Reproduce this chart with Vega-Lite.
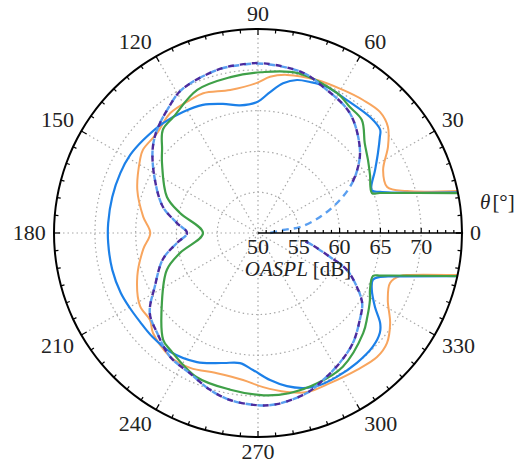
{
 "$schema": "https://vega.github.io/schema/vega-lite/v6.json",
 "width": 408,
 "height": 408,
 "autosize": {"type": "none"},
 "padding": {"left": 54, "top": 29, "right": 60, "bottom": 29},
 "background": "white",
 "config": {"view": {"stroke": null}, "text": {"font": "Liberation Serif"}, "axis": {"disable": true}},
 "datasets": {
  "spokes": [{"a": 30}, {"a": 60}, {"a": 90}, {"a": 120}, {"a": 150}, {"a": 180}, {"a": 210}, {"a": 240}, {"a": 270}, {"a": 300}, {"a": 330}],
  "angles": [{"a":0},{"a":5},{"a":10},{"a":15},{"a":20},{"a":25},{"a":30},{"a":35},{"a":40},{"a":45},{"a":50},{"a":55},{"a":60},{"a":65},{"a":70},{"a":75},{"a":80},{"a":85},{"a":90},{"a":95},{"a":100},{"a":105},{"a":110},{"a":115},{"a":120},{"a":125},{"a":130},{"a":135},{"a":140},{"a":145},{"a":150},{"a":155},{"a":160},{"a":165},{"a":170},{"a":175},{"a":180},{"a":185},{"a":190},{"a":195},{"a":200},{"a":205},{"a":210},{"a":215},{"a":220},{"a":225},{"a":230},{"a":235},{"a":240},{"a":245},{"a":250},{"a":255},{"a":260},{"a":265},{"a":270},{"a":275},{"a":280},{"a":285},{"a":290},{"a":295},{"a":300},{"a":305},{"a":310},{"a":315},{"a":320},{"a":325},{"a":330},{"a":335},{"a":340},{"a":345},{"a":350},{"a":355},{"a":360}],
  "rticks": [{"r":51},{"r":52},{"r":53},{"r":54},{"r":55},{"r":56},{"r":57},{"r":58},{"r":59},{"r":60},{"r":61},{"r":62},{"r":63},{"r":64},{"r":65},{"r":66},{"r":67},{"r":68},{"r":69},{"r":70},{"r":71},{"r":72},{"r":73},{"r":74}],
  "rlabels": [{"r": 50}, {"r": 55}, {"r": 60}, {"r": 65}, {"r": 70}],
  "alabels": [{"a":0,"label":"0"},{"a":30,"label":"30"},{"a":60,"label":"60"},{"a":90,"label":"90"},{"a":120,"label":"120"},{"a":150,"label":"150"},{"a":180,"label":"180"},{"a":210,"label":"210"},{"a":240,"label":"240"},{"a":270,"label":"270"},{"a":300,"label":"300"},{"a":330,"label":"330"}],
  "curves": [
   {"s":"orange","a":11.9,"r":75},{"s":"orange","a":15.7,"r":68.97},{"s":"orange","a":19.6,"r":66.8},{"s":"orange","a":26.7,"r":67.16},{"s":"orange","a":33.5,"r":69.1},{"s":"orange","a":39.2,"r":70.55},{"s":"orange","a":44.8,"r":71.06},{"s":"orange","a":51.7,"r":70.77},{"s":"orange","a":59.3,"r":70.39},{"s":"orange","a":68.9,"r":70.1},{"s":"orange","a":79.6,"r":69.7},{"s":"orange","a":85.6,"r":69.2},{"s":"orange","a":90.4,"r":68.4},{"s":"orange","a":101,"r":67.86},{"s":"orange","a":111.4,"r":68.4},{"s":"orange","a":117,"r":68.3},{"s":"orange","a":126.3,"r":68.2},{"s":"orange","a":135.3,"r":67.4},{"s":"orange","a":144.2,"r":67.4},{"s":"orange","a":148.3,"r":67.0},{"s":"orange","a":160.4,"r":65.7},{"s":"orange","a":172,"r":64.2},{"s":"orange","a":180,"r":63.2},{"s":"orange","a":188,"r":64.2},{"s":"orange","a":199.6,"r":65.7},{"s":"orange","a":211.7,"r":67.0},{"s":"orange","a":218.9,"r":67.0},{"s":"orange","a":223.6,"r":67.77},{"s":"orange","a":234.6,"r":68.6},{"s":"orange","a":243.3,"r":68.5},{"s":"orange","a":253.7,"r":67.9},{"s":"orange","a":264.2,"r":68.1},{"s":"orange","a":271.9,"r":68.9},{"s":"orange","a":280.3,"r":69.8},{"s":"orange","a":287.1,"r":70.4},{"s":"orange","a":295.6,"r":70.4},{"s":"orange","a":305.9,"r":70.7},{"s":"orange","a":313.8,"r":71.07},{"s":"orange","a":319.5,"r":70.78},{"s":"orange","a":325.7,"r":69.6},{"s":"orange","a":332.7,"r":67.9},{"s":"orange","a":339.3,"r":67.3},{"s":"orange","a":343.2,"r":68.2},{"s":"orange","a":344.6,"r":69.33},{"s":"orange","a":348.1,"r":75},
   {"s":"blue","a":11.5,"r":75},{"s":"blue","a":18.6,"r":65.77},{"s":"blue","a":20.7,"r":64.9},{"s":"blue","a":28.3,"r":66.3},{"s":"blue","a":33.7,"r":67.67},{"s":"blue","a":38.2,"r":69.0},{"s":"blue","a":40.2,"r":69.6},{"s":"blue","a":46,"r":69.76},{"s":"blue","a":56.2,"r":69.6},{"s":"blue","a":64.7,"r":69.8},{"s":"blue","a":71,"r":69.57},{"s":"blue","a":75.7,"r":69.35},{"s":"blue","a":80.5,"r":68.6},{"s":"blue","a":85.1,"r":67.34},{"s":"blue","a":90.4,"r":66.05},{"s":"blue","a":98,"r":65.8},{"s":"blue","a":105.2,"r":66.4},{"s":"blue","a":113.3,"r":67.1},{"s":"blue","a":121.8,"r":67.45},{"s":"blue","a":130.8,"r":67.8},{"s":"blue","a":141,"r":68.1},{"s":"blue","a":148.6,"r":68.35},{"s":"blue","a":156.5,"r":68.4},{"s":"blue","a":166.1,"r":68.4},{"s":"blue","a":176.2,"r":68.4},{"s":"blue","a":183.8,"r":68.4},{"s":"blue","a":194.2,"r":68.42},{"s":"blue","a":203.5,"r":68.35},{"s":"blue","a":210,"r":68.2},{"s":"blue","a":217,"r":68.1},{"s":"blue","a":224.5,"r":68.15},{"s":"blue","a":233.7,"r":68.1},{"s":"blue","a":244.7,"r":67.5},{"s":"blue","a":254.9,"r":66.5},{"s":"blue","a":262.1,"r":66.1},{"s":"blue","a":267.9,"r":66.8},{"s":"blue","a":274.7,"r":68.08},{"s":"blue","a":280.7,"r":69.1},{"s":"blue","a":286.2,"r":69.78},{"s":"blue","a":291.1,"r":70.1},{"s":"blue","a":298.7,"r":70.1},{"s":"blue","a":307.3,"r":70.0},{"s":"blue","a":315.3,"r":69.8},{"s":"blue","a":320.7,"r":69.3},{"s":"blue","a":323.6,"r":68.6},{"s":"blue","a":327.7,"r":66.96},{"s":"blue","a":333.4,"r":65.6},{"s":"blue","a":337.8,"r":65.2},{"s":"blue","a":340.2,"r":65.9},{"s":"blue","a":341.5,"r":66.8},{"s":"blue","a":347.8,"r":75},
   {"s":"green","a":11.3,"r":75},{"s":"green","a":18.15,"r":65.73},{"s":"green","a":19.3,"r":64.8},{"s":"green","a":27.4,"r":65.46},{"s":"green","a":33.6,"r":66.18},{"s":"green","a":40.1,"r":67.1},{"s":"green","a":47.4,"r":68.8},{"s":"green","a":53.9,"r":69.1},{"s":"green","a":60.6,"r":69.7},{"s":"green","a":76,"r":70.2},{"s":"green","a":89,"r":69.7},{"s":"green","a":100,"r":69.4},{"s":"green","a":113,"r":69.05},{"s":"green","a":126,"r":67.6},{"s":"green","a":132.7,"r":67.2},{"s":"green","a":138.9,"r":65.6},{"s":"green","a":143.9,"r":64.56},{"s":"green","a":158.4,"r":62.0},{"s":"green","a":165.6,"r":59.87},{"s":"green","a":180,"r":56.74},{"s":"green","a":194.4,"r":59.87},{"s":"green","a":202,"r":62.04},{"s":"green","a":216,"r":64.56},{"s":"green","a":228.4,"r":67.5},{"s":"green","a":233,"r":67.9},{"s":"green","a":247,"r":69.2},{"s":"green","a":260,"r":69.5},{"s":"green","a":272,"r":69.9},{"s":"green","a":281,"r":70.0},{"s":"green","a":291.5,"r":69.8},{"s":"green","a":302.4,"r":69.4},{"s":"green","a":316.4,"r":67.8},{"s":"green","a":322.4,"r":66.9},{"s":"green","a":329,"r":66.0},{"s":"green","a":333,"r":65.4},{"s":"green","a":339.5,"r":65.05},{"s":"green","a":340.9,"r":65.95},{"s":"green","a":347.8,"r":75},
   {"s":"dblue","a":0,"r":51.5},{"s":"dblue","a":6.8,"r":53.1},{"s":"dblue","a":8.1,"r":55.2},{"s":"dblue","a":14.5,"r":57.85},{"s":"dblue","a":20.8,"r":60.36},{"s":"dblue","a":26.6,"r":62.6},{"s":"dblue","a":31.7,"r":64.2},{"s":"dblue","a":39.1,"r":66.1},{"s":"dblue","a":52.5,"r":68.5},{"s":"dblue","a":66,"r":69.6},{"s":"dblue","a":74.3,"r":70.4},{"s":"dblue","a":88,"r":70.75},{"s":"dblue","a":96,"r":70.7},{"s":"dblue","a":104,"r":70.6},{"s":"dblue","a":118,"r":69.9},{"s":"dblue","a":126,"r":68.8},{"s":"dblue","a":135,"r":67.6},{"s":"dblue","a":142,"r":66.4},{"s":"dblue","a":152.8,"r":64.2},{"s":"dblue","a":164.7,"r":62.07},{"s":"dblue","a":173,"r":60.0},{"s":"dblue","a":180,"r":58.7},{"s":"dblue","a":187,"r":60.0},{"s":"dblue","a":195.3,"r":62.07},{"s":"dblue","a":207.2,"r":64.2},{"s":"dblue","a":216.5,"r":66.5},{"s":"dblue","a":224.7,"r":67.4},{"s":"dblue","a":234.6,"r":68.6},{"s":"dblue","a":244,"r":69.1},{"s":"dblue","a":253,"r":70.1},{"s":"dblue","a":260.5,"r":70.75},{"s":"dblue","a":269.7,"r":71.1},{"s":"dblue","a":276.3,"r":71.1},{"s":"dblue","a":287,"r":70.5},{"s":"dblue","a":293.9,"r":69.7},{"s":"dblue","a":302.2,"r":68.8},{"s":"dblue","a":310.8,"r":67.8},{"s":"dblue","a":319.5,"r":66.4},{"s":"dblue","a":326,"r":65.4},{"s":"dblue","a":331.4,"r":63.8},{"s":"dblue","a":337.4,"r":61.8},{"s":"dblue","a":341.6,"r":59.3},{"s":"dblue","a":347.5,"r":56.8},{"s":"dblue","a":350,"r":55.9},
   {"s":"purple","a":26.6,"r":62.6},{"s":"purple","a":31.7,"r":64.2},{"s":"purple","a":39.1,"r":66.1},{"s":"purple","a":52.5,"r":68.5},{"s":"purple","a":66,"r":69.6},{"s":"purple","a":74.3,"r":70.4},{"s":"purple","a":88,"r":70.8},{"s":"purple","a":96,"r":70.75},{"s":"purple","a":104,"r":70.6},{"s":"purple","a":118,"r":69.9},{"s":"purple","a":126,"r":68.8},{"s":"purple","a":135,"r":67.6},{"s":"purple","a":142,"r":66.4},{"s":"purple","a":152.8,"r":64.2},{"s":"purple","a":164.7,"r":62.07},{"s":"purple","a":173,"r":60.0},{"s":"purple","a":180,"r":58.7},{"s":"purple","a":187,"r":60.0},{"s":"purple","a":195.3,"r":62.07},{"s":"purple","a":207.2,"r":64.2},{"s":"purple","a":216.5,"r":66.5},{"s":"purple","a":224.7,"r":67.4},{"s":"purple","a":234.6,"r":68.6},{"s":"purple","a":244,"r":69.1},{"s":"purple","a":253,"r":70.1},{"s":"purple","a":260.5,"r":70.75},{"s":"purple","a":269.7,"r":71.1},{"s":"purple","a":276.3,"r":71.1},{"s":"purple","a":287,"r":70.5},{"s":"purple","a":293.9,"r":69.7},{"s":"purple","a":302.2,"r":68.8},{"s":"purple","a":310.8,"r":67.8},{"s":"purple","a":319.5,"r":66.4},{"s":"purple","a":326,"r":65.4},{"s":"purple","a":331.4,"r":63.8},{"s":"purple","a":337.4,"r":61.8},{"s":"purple","a":341.6,"r":59.3},{"s":"purple","a":347.5,"r":56.8},{"s":"purple","a":350,"r":55.9}
  ]
 },
 "layer": [
  {
   "data": {"name": "angles"},
   "transform": [
    {"calculate": "[55, 60, 65, 70]", "as": "rr"},
    {"flatten": ["rr"]},
    {"calculate": "(datum.rr-50)*cos(datum.a*PI/180)", "as": "x"},
    {"calculate": "(datum.rr-50)*sin(datum.a*PI/180)", "as": "y"}
   ],
   "mark": {"type": "line", "stroke": "#a8a8a8", "strokeWidth": 1.2, "strokeDash": [1.5, 3]},
   "encoding": {
    "x": {"field": "x", "type": "quantitative", "scale": {"domain": [-25, 25], "nice": false, "zero": false}, "axis": null},
    "y": {"field": "y", "type": "quantitative", "scale": {"domain": [-25, 25], "nice": false, "zero": false}, "axis": null},
    "detail": {"field": "rr", "type": "nominal"},
    "order": {"field": "a", "type": "quantitative"}
   }
  },
  {
   "data": {"name": "spokes"},
   "transform": [{"calculate": "25*cos(datum.a*PI/180)", "as": "x2"}, {"calculate": "25*sin(datum.a*PI/180)", "as": "y2"}, {"calculate": "0", "as": "x"}, {"calculate": "0", "as": "y"}],
   "mark": {"type": "rule", "stroke": "#a8a8a8", "strokeWidth": 1.2, "strokeDash": [1.5, 3]},
   "encoding": {
    "x": {"field": "x", "type": "quantitative"},
    "y": {"field": "y", "type": "quantitative"},
    "x2": {"field": "x2"},
    "y2": {"field": "y2"}
   }
  },
  {
   "data": {"name": "curves"},
   "transform": [{"filter": "datum.s == 'orange'"}, {"calculate": "(datum.r-50)*cos(datum.a*PI/180)", "as": "x"}, {"calculate": "(datum.r-50)*sin(datum.a*PI/180)", "as": "y"}],
   "mark": {"type": "line", "stroke": "#f8a55e", "strokeWidth": 2, "interpolate": "catmull-rom"},
   "encoding": {"x": {"field": "x", "type": "quantitative"}, "y": {"field": "y", "type": "quantitative"}, "order": {"field": "a", "type": "quantitative"}}
  },
  {
   "data": {"name": "curves"},
   "transform": [{"filter": "datum.s == 'blue'"}, {"calculate": "(datum.r-50)*cos(datum.a*PI/180)", "as": "x"}, {"calculate": "(datum.r-50)*sin(datum.a*PI/180)", "as": "y"}],
   "mark": {"type": "line", "stroke": "#1c80e8", "strokeWidth": 2.2, "interpolate": "catmull-rom"},
   "encoding": {"x": {"field": "x", "type": "quantitative"}, "y": {"field": "y", "type": "quantitative"}, "order": {"field": "a", "type": "quantitative"}}
  },
  {
   "data": {"name": "curves"},
   "transform": [{"filter": "datum.s == 'green'"}, {"calculate": "(datum.r-50)*cos(datum.a*PI/180)", "as": "x"}, {"calculate": "(datum.r-50)*sin(datum.a*PI/180)", "as": "y"}],
   "mark": {"type": "line", "stroke": "#3fa048", "strokeWidth": 2.2, "interpolate": "catmull-rom"},
   "encoding": {"x": {"field": "x", "type": "quantitative"}, "y": {"field": "y", "type": "quantitative"}, "order": {"field": "a", "type": "quantitative"}}
  },
  {
   "data": {"name": "curves"},
   "transform": [{"filter": "datum.s == 'dblue'"}, {"calculate": "(datum.r-50)*cos(datum.a*PI/180)", "as": "x"}, {"calculate": "(datum.r-50)*sin(datum.a*PI/180)", "as": "y"}],
   "mark": {"type": "line", "stroke": "#5a9ff0", "strokeWidth": 2.4, "strokeDash": [7, 5], "interpolate": "catmull-rom"},
   "encoding": {"x": {"field": "x", "type": "quantitative"}, "y": {"field": "y", "type": "quantitative"}, "order": {"field": "a", "type": "quantitative"}}
  },
  {
   "data": {"name": "curves"},
   "transform": [{"filter": "datum.s == 'purple'"}, {"calculate": "(datum.r-50)*cos(datum.a*PI/180)", "as": "x"}, {"calculate": "(datum.r-50)*sin(datum.a*PI/180)", "as": "y"}],
   "mark": {"type": "line", "stroke": "#4b2b9e", "strokeWidth": 2.4, "strokeDash": [6, 6], "strokeDashOffset": 6, "interpolate": "catmull-rom"},
   "encoding": {"x": {"field": "x", "type": "quantitative"}, "y": {"field": "y", "type": "quantitative"}, "order": {"field": "a", "type": "quantitative"}}
  },
  {
   "data": {"name": "angles"},
   "transform": [
    {"calculate": "25*cos(datum.a*PI/180)", "as": "x"},
    {"calculate": "25*sin(datum.a*PI/180)", "as": "y"}
   ],
   "mark": {"type": "line", "stroke": "black", "strokeWidth": 2, "interpolate": "cardinal-closed"},
   "encoding": {"x": {"field": "x", "type": "quantitative"}, "y": {"field": "y", "type": "quantitative"}, "order": {"field": "a", "type": "quantitative"}}
  },
  {
   "data": {"name": "angles"},
   "transform": [
    {"calculate": "datum.a % 30 == 0 ? 24.25 : 24.55", "as": "ri"},
    {"calculate": "25*cos(datum.a*PI/180)", "as": "x"}, {"calculate": "25*sin(datum.a*PI/180)", "as": "y"},
    {"calculate": "datum.ri*cos(datum.a*PI/180)", "as": "x2"}, {"calculate": "datum.ri*sin(datum.a*PI/180)", "as": "y2"}
   ],
   "mark": {"type": "rule", "stroke": "black", "strokeWidth": 1.2},
   "encoding": {"x": {"field": "x", "type": "quantitative"}, "y": {"field": "y", "type": "quantitative"}, "x2": {"field": "x2"}, "y2": {"field": "y2"}}
  },
  {
   "data": {"values": [{"x": 0, "x2": 25, "y": 0}]},
   "mark": {"type": "rule", "stroke": "black", "strokeWidth": 1.6},
   "encoding": {"x": {"field": "x", "type": "quantitative"}, "x2": {"field": "x2"}, "y": {"field": "y", "type": "quantitative"}}
  },
  {
   "data": {"name": "rticks"},
   "transform": [{"calculate": "datum.r - 50", "as": "x"}, {"calculate": "0", "as": "y"}, {"calculate": "datum.r % 5 == 0 ? 0.62 : 0.38", "as": "y2"}],
   "mark": {"type": "rule", "stroke": "black", "strokeWidth": 1.2},
   "encoding": {"x": {"field": "x", "type": "quantitative"}, "y": {"field": "y", "type": "quantitative"}, "y2": {"field": "y2"}}
  },
  {
   "data": {"name": "rlabels"},
   "transform": [{"calculate": "datum.r - 50", "as": "x"}, {"calculate": "0", "as": "y"}],
   "mark": {"type": "text", "fontSize": 22, "align": "center", "baseline": "middle", "dy": 14, "color": "#222"},
   "encoding": {"x": {"field": "x", "type": "quantitative"}, "y": {"field": "y", "type": "quantitative"}, "text": {"field": "r", "type": "quantitative"}}
  },
  {
   "data": {"values": [{"t": "OASPL", "x": 6.35, "y": -4.5}]},
   "mark": {"type": "text", "fontSize": 21, "fontStyle": "italic", "align": "right", "baseline": "middle", "dx": -2, "color": "#222"},
   "encoding": {"x": {"field": "x", "type": "quantitative"}, "y": {"field": "y", "type": "quantitative"}, "text": {"field": "t", "type": "nominal"}}
  },
  {
   "data": {"values": [{"t": "[dB]", "x": 6.35, "y": -4.5}]},
   "mark": {"type": "text", "fontSize": 21, "align": "left", "baseline": "middle", "dx": 3, "color": "#222"},
   "encoding": {"x": {"field": "x", "type": "quantitative"}, "y": {"field": "y", "type": "quantitative"}, "text": {"field": "t", "type": "nominal"}}
  },
  {
   "data": {"values": [{"t": "θ", "x": 28.6, "y": 3.7}]},
   "mark": {"type": "text", "fontSize": 21, "fontStyle": "italic", "align": "right", "baseline": "middle", "dx": -1, "color": "#222"},
   "encoding": {"x": {"field": "x", "type": "quantitative"}, "y": {"field": "y", "type": "quantitative"}, "text": {"field": "t", "type": "nominal"}}
  },
  {
   "data": {"values": [{"t": "[°]", "x": 28.6, "y": 3.7}]},
   "mark": {"type": "text", "fontSize": 21, "align": "left", "baseline": "middle", "dx": 1, "color": "#222"},
   "encoding": {"x": {"field": "x", "type": "quantitative"}, "y": {"field": "y", "type": "quantitative"}, "text": {"field": "t", "type": "nominal"}}
  },
  {
   "data": {"name": "alabels"},
   "transform": [
    {"calculate": "cos(datum.a*PI/180)", "as": "c"},
    {"calculate": "sin(datum.a*PI/180)", "as": "sn"},
    {"calculate": "(212*datum.c + (datum.c > 0.01 ? 1 : datum.c < -0.01 ? -1 : 0)*5.6*length(datum.label))/8.16", "as": "x"},
    {"calculate": "(212*datum.sn + (datum.sn > 0.01 ? 1 : datum.sn < -0.01 ? -1 : 0)*7.3)/8.16", "as": "y"}
   ],
   "mark": {"type": "text", "fontSize": 22, "align": "center", "baseline": "middle", "color": "#222"},
   "encoding": {"x": {"field": "x", "type": "quantitative"}, "y": {"field": "y", "type": "quantitative"}, "text": {"field": "label", "type": "nominal"}}
  }
 ]
}
